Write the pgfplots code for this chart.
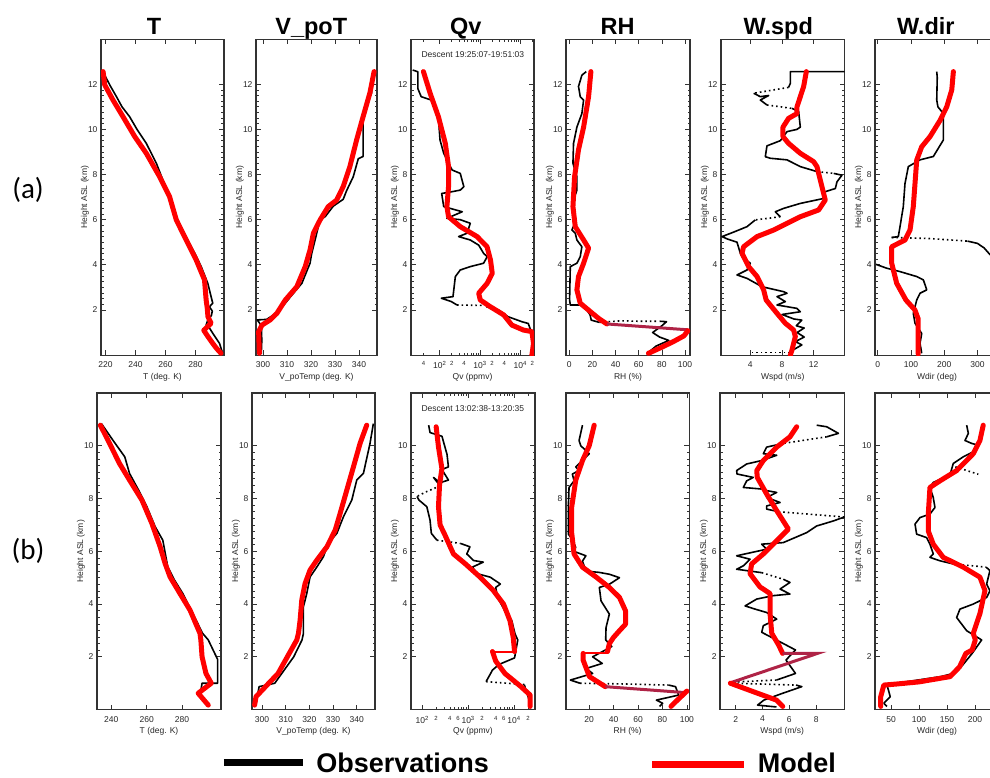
\documentclass[border=0pt]{standalone}
\usepackage{fontspec}
\setmainfont{Liberation Sans}
\newfontfamily\carlito{Carlito}
\usepackage{pgfplots}
\pgfplotsset{compat=1.18}

\pgfplotsset{
  prof/.style={
    scale only axis, anchor=south west, ymin=0,
    axis line style={black!80, line width=1.1pt},
    every tick/.style={black!80, line width=0.7pt},
    major tick length=5pt, minor tick length=2.5pt,
    minor y tick num=7,
    tick label style={font=\fontsize{8.5}{9}\selectfont, black!85},
    xticklabel style={yshift=-3pt},
    label style={font=\fontsize{8.5}{9}\selectfont, black!85},
    ylabel={Height ASL (km)},
    ylabel style={at={(axis description cs:0,0.5)}, yshift=16pt, anchor=center},
    xlabel style={at={(axis description cs:0.5,0)}, yshift=-22pt, anchor=center},
    /pgf/number format/assume math mode=true,
  },
  rowa/.style={prof, height=316pt, ymax=14, ytick={2,4,6,8,10,12}},
  rowb/.style={prof, height=316.6pt, ymax=12, ytick={2,4,6,8,10}},
  obs/.style={black, line width=1.6pt, line join=round},
  obsdot/.style={black, line width=1.6pt, dash pattern=on 1.6pt off 3pt},
  mod/.style={red, line width=5pt, line join=round, line cap=round},
  band/.style={color={rgb,255:red,175;green,35;blue,70}, line width=3pt},
  obsleg/.style={legend image code/.code={\draw[##1, line width=7pt, line cap=butt] (0pt,0pt) -- (79pt,0pt);}},
  modleg/.style={legend image code/.code={\draw[##1, line width=7pt, line cap=butt] (0pt,-1.5pt) -- (92pt,-1.5pt);}},
}

\begin{document}
\begin{tikzpicture}[x=1pt,y=1pt]
\useasboundingbox (0,0) rectangle (990,777);
\clip (0,0) rectangle (990,777);

% ---------------- row (a) ----------------
\begin{axis}[rowa, at={(101pt,421.9pt)}, width=123pt,
  xmin=217, xmax=299, xtick={220,240,260,280}, xlabel={T (deg. K)}]
\addplot[obs] coordinates {(298.1,0.08) (296.0,0.52) (291.5,0.97) (289.3,1.2) (287.1,1.33) (288.2,1.56) (290.6,1.75) (291.2,1.95) (289.3,2.14) (291.5,2.3) (290.4,2.59) (288.2,3.18) (283.8,3.92) (280,4.45) (276,4.95) (271,5.6) (267.2,6.13) (264.5,6.7) (261.6,7.24) (258,7.8) (253.9,8.5) (247.2,9.38) (241,10.0) (236.1,10.56) (231,11.0) (227.3,11.45) (223,11.95) (219.5,12.4) (218.6,12.6)};
\addplot[mod] coordinates {(297,0.08) (294,0.3) (291.5,0.52) (288.5,0.8) (285.5,1.1) (290.4,1.41) (288.3,1.7) (287.8,2.1) (287.1,2.44) (286,3.33) (280.5,4.21) (273.8,5.1) (267.2,5.99) (262.7,7.02) (256.1,7.9) (247.2,8.94) (239.5,9.68) (231.7,10.56) (225,11.3) (219.5,11.97) (218.4,12.56)};
\end{axis}

\begin{axis}[rowa, at={(256pt,421.9pt)}, width=121pt,
  xmin=297.1, xmax=347.5, xtick={300,310,320,330,340}, xlabel={V\_poTemp (deg. K)}]
\addplot[obs] coordinates {(299.3,0.05) (299.5,0.6) (299.4,1.3) (297.6,1.56) (301.5,1.58) (304.4,1.78) (307,2.0) (309.3,2.3) (312.7,2.74) (316.2,3.18) (319.6,4.07) (320.3,4.5) (322.4,5.4) (323.8,6.0) (325.9,6.13) (329.3,6.6) (333.4,6.9) (334.9,7.3) (337.6,7.9) (339.7,8.7) (341.7,8.8) (341.7,10.5) (342.4,10.9) (345.2,11.6) (345.9,12.6)};
\addplot[mod] coordinates {(298.5,0.08) (298.2,1.04) (299.6,1.33) (303,1.56) (305.8,1.85) (309.3,2.44) (314.1,3.03) (317.6,3.92) (319.6,4.66) (321,5.4) (323.8,5.99) (327.2,6.58) (330.7,6.87) (333.4,7.46) (336.2,8.35) (339,9.53) (341.7,10.56) (344.5,11.6) (346.3,12.56)};
\end{axis}

\begin{axis}[rowa, at={(411pt,421.9pt)}, width=123pt, xmode=log,
  xmin=19.4, xmax=22000, xtick={100,1000,10000},
  xticklabels={10\textsuperscript{2},10\textsuperscript{3},10\textsuperscript{4}},
  extra x ticks={40,200,400,2000,4000,20000}, extra x tick labels={4,2,4,2,4,2},
  extra x tick style={major tick length=2.5pt, tick label style={font=\fontsize{6}{6}\selectfont}},
  xlabel={Qv (ppmv)}]
\node[anchor=west, font=\fontsize{8.5}{9}\selectfont, black!85] at (axis description cs:0.057,0.95) {Descent 19:25:07-19:51:03};
\addplot[obs] coordinates {(21.4,12.63) (28.8,12.55) (28.8,11.8) (34.7,11.45) (61.7,11.3) (91.2,10.7) (102,9.53) (126,8.94) (166,8.5) (204,8.2) (324,8.05) (398,7.46) (324,7.31) (204,7.24) (112,7.16) (126,6.58) (363,6.35) (151,6.06) (324,6.0) (575,5.84) (479,5.4) (295,5.25) (575,5.1) (933,4.87) (1230,4.51) (1514,4.36) (1230,4.07) (575,3.92) (324,3.77) (245,3.48) (214,2.59) (110,2.52) (195,2.37) (269,2.22)};
\addplot[obsdot] coordinates {(269,2.22) (1300,2.2)};
\addplot[obs] coordinates {(1445,2.14) (2884,2.0) (5012,1.7) (10965,1.48) (15849,1.4) (19498,0.96) (21380,0.08)};
\addplot[mod] coordinates {(39.5,12.56) (57.9,11.6) (93,10.56) (138,9.38) (166,8.35) (166,7.46) (151,6.58) (166,6.13) (325,5.69) (850,5.25) (1500,4.8) (1830,4.21) (2020,3.62) (1510,3.18) (930,2.74) (1020,2.44) (1820,2.14) (2450,2.0) (3890,1.78) (6200,1.33) (12000,1.11) (19500,1.04) (21400,0.52) (19500,0.0)};
\end{axis}

\begin{axis}[rowa, at={(566pt,421.9pt)}, width=124pt,
  xmin=-2.8, xmax=104.3, xtick={0,20,40,60,80,100}, xlabel={RH (\%)}]
\addplot[obs] coordinates {(14.7,12.56) (10.9,12.4) (8,11.9) (9.5,11.45) (12.4,11.3) (10.9,10.7) (6.6,10.1) (3.7,9.38) (3.2,8.5) (6.6,7.9) (6.6,7.31) (3.7,6.87) (3.7,6.28) (5.2,5.9) (2.3,5.54) (5.2,5.4) (6.6,5.1) (10.9,4.8) (9.5,4.36) (6.6,4.07) (0.9,3.92) (0.3,2.44) (0.9,2.22) (9.5,2.22) (15.2,2.0) (18,1.78) (19,1.55) (26,1.45)};
\addplot[obsdot] coordinates {(26,1.45) (45,1.52) (60,1.5) (76,1.5)};
\addplot[obs] coordinates {(78,1.5) (84,1.48) (80,1.3) (72,1.0) (78,0.8) (86,0.65) (75,0.4) (68,0.1)};
\addplot[mod] coordinates {(18.7,12.56) (16.7,11.45) (12.4,10.1) (8.0,9.1) (4.6,7.9) (3.2,6.58) (5.2,5.69) (12.4,5.1) (16.7,4.74) (12.4,4.07) (8.0,3.48) (6.6,2.89) (9.5,2.3) (20,1.85) (26,1.6) (32.5,1.38)};
\addplot[band] coordinates {(32.5,1.38) (102.5,1.12)};
\addplot[mod] coordinates {(102.5,1.08) (99,0.85) (90,0.6) (80,0.35) (68.4,0.08)};
\end{axis}

\begin{axis}[rowa, at={(721pt,421.9pt)}, width=123.6pt,
  xmin=0.3, xmax=15.9, xtick={4,8,12}, xlabel={Wspd (m/s)}]
\addplot[obs] coordinates {(15.9,12.56) (9.05,12.56) (9.05,12.04) (8.83,11.86)};
\addplot[obsdot] coordinates {(8.83,11.86) (4.42,11.6)};
\addplot[obs] coordinates {(4.42,11.6) (5.26,11.45) (6.31,11.5) (5.26,11.3) (6.1,11.08)};
\addplot[obsdot] coordinates {(6.1,11.08) (9.26,10.93)};
\addplot[obs] coordinates {(9.26,10.93) (10.1,10.79) (10.31,10.1) (9.89,10.0) (8.63,9.9) (7.79,9.5) (6.1,9.27) (5.89,8.79) (6.52,8.72) (8.63,8.65) (10.31,8.35) (12.41,8.13)};
\addplot[obsdot] coordinates {(12.41,8.13) (14.52,8.05)};
\addplot[obs] coordinates {(14.52,8.05) (15.57,7.97) (14.94,7.68) (14.73,7.38) (13.46,7.24) (13.26,6.94) (10.31,6.72) (8.2,6.5) (7.16,6.35) (7.79,6.13)};
\addplot[obsdot] coordinates {(7.79,6.13) (4.63,5.99)};
\addplot[obs] coordinates {(4.63,5.99) (3.58,5.69) (1.9,5.45) (0.43,5.25) (1.06,5.15) (2.32,5.0) (2.74,4.51) (2.95,4.36) (4.0,4.07) (3.58,3.77) (2.32,3.55) (3.58,3.4) (5.47,3.03) (8.2,2.81) (8.63,2.74) (7.37,2.59) (8.42,2.37) (7.37,2.22) (9.89,2.07) (10.31,1.92) (8.0,1.8) (9.5,1.6) (10.5,1.55) (9.8,1.3) (10.8,1.2) (9.9,1.0) (10.8,0.8) (9.7,0.6) (10.5,0.45) (9.5,0.25) (9.0,0.1)};
\addplot[obsdot] coordinates {(9.0,0.11) (4.0,0.11)};
\addplot[mod] coordinates {(9.05,0.0) (9.26,0.23) (9.68,0.82) (9.47,1.11) (8.42,1.41) (7.37,1.85) (6.0,2.44) (5.68,2.89) (4.85,3.48) (3.79,3.92) (2.95,4.51) (3.15,4.8) (4.85,5.25) (6.94,5.54) (10.31,6.13) (12.62,6.43) (13.46,6.87) (12.41,8.35) (11.99,8.57) (10.31,8.94) (8.83,9.38) (8.12,9.68) (8.12,10.1) (8.83,10.49) (9.89,10.7) (9.89,11.0) (10.31,11.45) (10.73,11.9) (11.07,12.56)};
\end{axis}

\begin{axis}[rowa, at={(875pt,421.9pt)}, width=124pt,
  xmin=-8, xmax=365, xtick={0,100,200,300}, xlabel={Wdir (deg)}]
\addplot[obs] coordinates {(177.7,12.56) (179.2,12.3) (177.7,11.3) (181.2,11.0) (197.6,10.7) (197.6,9.53) (167.5,8.8) (127.4,8.65) (92.2,8.35) (82.2,7.6) (77.1,6.58) (67.2,5.69) (62.1,5.25) (42.2,5.21)};
\addplot[obsdot] coordinates {(42.2,5.21) (150,5.17) (270,5.05)};
\addplot[obs] coordinates {(270,5.05) (300,4.95) (320,4.75) (335,4.5) (345,4.35) (370,4.2)};
\addplot[obs] coordinates {(-5,4.02) (27,3.85) (67,3.7) (117.5,3.48) (137.5,3.33) (147.6,2.89) (127.4,2.74) (117.5,2.44) (107.2,1.85) (112.3,1.41) (132.5,0.96) (127.4,0.52) (132.5,0.08)};
\addplot[mod] coordinates {(122,0.05) (122,1.6) (112,2.0) (85,2.44) (57.2,3.18) (42.2,4.07) (42.2,4.8) (82.2,5.1) (97.3,5.54) (107.2,6.58) (112.3,7.6) (117.5,8.64) (132.5,9.23) (157.5,9.68) (187.7,10.4) (207.8,11.0) (222.9,11.75) (227.7,12.56)};
\end{axis}

% ---------------- row (b) ----------------
\begin{axis}[rowb, at={(97pt,67.4pt)}, width=124pt,
  xmin=231.9, xmax=302, xtick={240,260,280}, xlabel={T (deg. K)}]
\addplot[obs] coordinates {(293.2,0.25) (290.2,0.55) (291.3,1.0) (300.1,1.0) (300.1,1.9) (294.8,2.64) (291.6,2.89) (286,3.65) (280.4,4.4) (275.7,4.91) (271.9,5.41) (269.1,6.42) (264.8,6.93) (260.1,7.69) (255.4,8.32) (250.3,8.95) (247.6,9.58) (241,10.2) (234.4,10.84)};
\addplot[mod] coordinates {(294.8,0.17) (289.1,0.62) (296.5,1.0) (293.5,1.37) (291.3,2.0) (290.6,2.64) (290.1,2.89) (284.5,3.77) (278.8,4.4) (273.2,5.03) (270.4,5.54) (267.6,6.17) (262.9,7.06) (257.3,7.94) (250.3,8.7) (244.6,9.33) (239,10.09) (233.8,10.78)};
\end{axis}

\begin{axis}[rowb, at={(252pt,67.4pt)}, width=123pt,
  xmin=295.8, xmax=347.7, xtick={300,310,320,330,340}, xlabel={V\_poTemp (deg. K)}]
\addplot[obs] coordinates {(297.5,0.24) (298.8,0.87) (305.4,1.0) (309.4,1.5) (313.4,2.0) (316.9,2.64) (317.5,2.89) (317.5,3.9) (318.9,4.4) (320.3,5.03) (323.2,5.41) (325.9,5.79) (328,6.3) (331.6,6.68) (334.4,7.31) (337.9,7.94) (340,8.7) (342.8,8.95) (345.6,10.09) (347,10.84)};
\addplot[mod] coordinates {(296.9,0.17) (297.5,0.49) (301.5,0.87) (306.8,1.37) (310.7,2.0) (314.7,2.64) (315.4,2.89) (316.1,3.39) (316.8,4.15) (318.2,4.78) (320.3,5.29) (323.2,5.67) (327.4,6.17) (330.9,6.8) (333,7.44) (335.8,8.32) (338.6,9.2) (341.4,10.09) (344.2,10.78)};
\end{axis}

\begin{axis}[rowb, at={(411pt,67.4pt)}, width=124pt, xmode=log,
  xmin=57, xmax=28500, xtick={100,1000,10000},
  xticklabels={10\textsuperscript{2},10\textsuperscript{3},10\textsuperscript{4}},
  extra x ticks={200,400,600,2000,4000,6000,20000}, extra x tick labels={2,4,6,2,4,6,2},
  extra x tick style={major tick length=2.5pt, tick label style={font=\fontsize{6}{6}\selectfont}},
  xlabel={Qv (ppmv)},
  legend columns=2,
  legend style={at={(axis description cs:-1.540,-0.168)}, anchor=west, draw=none, fill=none,
    inner sep=0pt, font=\fontsize{27}{27}\selectfont\bfseries,
    nodes={inner sep=0pt, text depth=0pt},
    /tikz/every odd column/.append style={column sep=10pt},
    /tikz/every even column/.append style={column sep=160pt}}]
\node[anchor=west, font=\fontsize{8.5}{9}\selectfont, black!85] at (axis description cs:0.057,0.95) {Descent 13:02:38-13:20:35};
\addplot[obs, obsleg] coordinates {(138,10.78) (148,10.5) (269,10.36) (347,9.67) (372,9.2) (269,9.1) (372,8.7) (245,8.6) (176,8.8) (245,8.48)};
\addlegendentry{Observations}
\addplot[obsdot, forget plot] coordinates {(245,8.48) (120,8.25) (77,8.08)};
\addplot[obs, forget plot] coordinates {(77,8.08) (85,7.94) (126,7.69) (148,7.18) (158,6.68) (209,6.42)};
\addplot[obsdot, forget plot] coordinates {(209,6.42) (676,6.3)};
\addplot[obs, forget plot] coordinates {(676,6.3) (1096,6.17) (933,5.9) (1318,5.65) (2138,5.59) (1230,5.4) (1585,5.15) (3020,5.02) (5012,4.76) (3981,4.63) (4365,4.25) (6310,3.74) (8913,3.37) (10471,2.87) (12023,2.64) (10233,1.96) (4677,1.71) (3388,1.5) (2455,1.06)};
\addplot[obsdot, forget plot] coordinates {(2455,1.06) (16596,0.95)};
\addplot[obs, forget plot] coordinates {(16596,0.95) (22387,0.24)};
\addplot[mod, modleg] coordinates {(201,10.72) (226,9.95) (268,9.14) (238,8.5) (226,7.69) (245,7.0) (316,6.6) (407,6.17) (479,5.9) (861,5.53) (1820,5.02) (3548,4.51) (5888,4.0) (8128,3.37) (9550,2.75) (10233,2.2)};
\addlegendentry{Model}
\addplot[red, line width=2pt, forget plot] coordinates {(10233,2.2) (3388,2.2)};
\addplot[mod, forget plot] coordinates {(3388,2.2) (3981,1.84) (6310,1.37) (14125,0.87) (22387,0.55) (22387,0.12)};
\end{axis}

\begin{axis}[rowb, at={(566pt,67.4pt)}, width=123.3pt,
  xmin=1, xmax=102, xtick={20,40,60,80,100}, xlabel={RH (\%)}]
\addplot[obs] coordinates {(14.5,10.78) (11.7,10.2) (13.1,10.0) (20,9.7) (14.5,9.44) (9,9.2) (11.7,9.06) (6.2,8.93) (7.6,8.67) (3.5,8.42) (2.9,7.66) (2.9,6.65) (6.2,6.46) (9,6.14) (6.2,6.02) (17.3,5.83) (14.5,5.63) (17.3,5.25) (28.3,5.2) (36.5,5.13) (44.8,5.0) (36.5,4.75) (28.3,4.63) (29.7,4.12) (36.5,3.62) (33.8,3.11) (33.5,2.64) (38.5,2.39) (22.8,2.0) (30.7,1.75) (17.6,1.56) (22.8,1.37) (4.6,1.12) (12.4,1.0)};
\addplot[obsdot] coordinates {(12.4,1.0) (50,0.97) (85,0.93)};
\addplot[obs] coordinates {(85,0.93) (90.7,0.87) (93.3,0.55) (75,0.36) (80.2,0.24) (77.6,0.12)};
\addplot[mod] coordinates {(24.1,10.78) (20,10.0) (14.5,9.44) (9,8.7) (5.7,7.69) (5.7,6.68) (7.6,5.9) (14.5,5.4) (25.5,5.03) (36.5,4.63) (44.8,4.25) (49.8,3.74) (49.8,3.24) (44.8,2.99) (40,2.74) (36.5,2.5) (35,2.2)};
\addplot[red, line width=2pt] coordinates {(35,2.15) (15,2.15)};
\addplot[mod] coordinates {(15,2.13) (15,1.88) (20.2,1.25) (33.2,0.87)};
\addplot[band] coordinates {(33.2,0.87) (100,0.64)};
\addplot[mod] coordinates {(100,0.7) (92,0.35) (87,0.12)};
\end{axis}

\begin{axis}[rowb, at={(720pt,67.4pt)}, width=124.3pt,
  xmin=0.83, xmax=10.1, xtick={2,4,6,8}, xlabel={Wspd (m/s)}]
\addplot[obs] coordinates {(8.04,10.78) (8.79,10.72) (9.66,10.47) (8.79,10.34)};
\addplot[obsdot] coordinates {(8.79,10.34) (5.55,10.09)};
\addplot[obs] coordinates {(5.55,10.09) (4.31,9.95) (4.06,9.7) (5.06,9.64) (3.94,9.44) (2.82,9.31) (2.07,9.06) (2.1,8.93) (3.31,8.8) (2.82,8.67) (2.57,8.42) (3.94,8.36) (4.31,8.3) (5.06,8.23) (4.31,8.04) (5.31,7.85) (4.31,7.72) (4.31,7.6) (5.2,7.5)};
\addplot[obsdot] coordinates {(5.2,7.5) (10.1,7.3)};
\addplot[obs] coordinates {(10.1,7.3) (9.28,7.15) (8.04,6.96) (7.3,6.71) (5.55,6.33) (3.94,6.27) (4.31,6.08) (2.07,5.83) (3.07,5.7) (2.57,5.45) (2.07,5.32) (3.94,5.19)};
\addplot[obsdot] coordinates {(3.94,5.19) (5.55,4.94)};
\addplot[obs] coordinates {(5.55,4.94) (6.05,4.82) (5.31,4.57) (6.05,4.38) (4.81,4.32) (3.57,4.19) (2.7,3.93) (3.44,3.81) (4.31,3.68) (5.06,3.43) (4.06,3.18) (3.94,2.93) (5.04,2.64) (6.46,2.26) (5.75,1.88) (6.46,1.37) (5.04,1.12)};
\addplot[obsdot] coordinates {(5.04,1.12) (2.0,1.05)};
\addplot[obs] coordinates {(2.0,1.05) (1.75,1.0)};
\addplot[obsdot] coordinates {(1.75,1.0) (6.5,0.93)};
\addplot[obs] coordinates {(6.5,0.93) (6.93,0.87) (5.51,0.62) (4.1,0.36) (3.63,0.17) (5.04,0.1)};
\addplot[mod] coordinates {(6.55,10.72) (6.05,10.34) (5.06,9.95) (4.06,9.44) (3.57,9.06) (3.61,8.8) (4.31,8.17) (5.06,7.54) (5.93,6.84) (5.06,6.4) (4.06,5.9) (3.19,5.52) (3.07,5.15) (3.81,4.65) (4.56,4.4) (4.56,3.64) (4.69,2.89) (5.2,2.45) (5.5,2.13)};
\addplot[band] coordinates {(5.5,2.13) (8.1,2.13) (1.5,1.0)};
\addplot[mod] coordinates {(1.6,1.0) (3.63,0.62) (5.04,0.36) (5.51,0.12)};
\end{axis}

\begin{axis}[rowb, at={(875pt,67.4pt)}, width=124pt,
  xmin=21.4, xmax=243, xtick={50,100,150,200}, xlabel={Wdir (deg)}]
\addplot[obs] coordinates {(185.2,10.78) (188.2,10.47) (182.2,10.2) (194.1,10.09) (206,10.02) (197,9.77) (179.1,9.58) (161.3,9.33) (155.4,8.9) (125.5,8.61) (119.6,8.42) (125.5,8.04) (128.5,7.66) (119.6,7.41) (101.8,7.28) (92.9,7.03) (95.8,6.65) (113.6,6.52) (119.6,6.27) (125.5,5.9) (119.6,5.77) (137.5,5.64) (161.3,5.52)};
\addplot[obsdot] coordinates {(165,9.2) (206,8.92)};
\addplot[obsdot] coordinates {(161.3,5.52) (220,5.4)};
\addplot[obs] coordinates {(220,5.4) (226.8,5.27) (220.9,4.76) (226.8,4.5) (220.9,4.25) (197,4.0) (173.2,3.81) (167.3,3.49) (185.2,2.99) (212,2.64) (195,2.13) (178.2,1.69) (161.3,1.37) (138.8,1.25) (59.8,1.0) (42.9,0.93) (48.6,0.49) (37.2,0.24) (42.9,0.12)};
\addplot[mod] coordinates {(214.8,10.78) (208.9,10.2) (197,9.7) (167.3,9.06) (137.5,8.67) (119.6,8.42) (116.6,7.41) (116.6,6.77) (125.5,6.27) (143.4,5.77) (179.1,5.4) (208.9,5.02) (217.9,4.51) (208.9,3.64) (197,2.89) (200.7,2.64) (195,2.26) (183.8,2.13) (172.5,1.62) (155.6,1.25) (100,1.05) (60,0.97) (37.2,0.93) (31.6,0.49) (31.6,0.12)};
\end{axis}

% column titles and row tags
\begin{scope}[font=\fontsize{23.5}{24}\selectfont\bfseries]
\node[anchor=base] at (154,742) {T};
\node[anchor=base] at (311.3,742) {V\_poT};
\node[anchor=base] at (465.8,742) {Qv};
\node[anchor=base] at (617.5,742) {RH};
\node[anchor=base] at (778.3,742) {W.spd};
\node[anchor=base] at (925.8,742) {W.dir};
\end{scope}
\node[font=\carlito\fontsize{29}{30}\selectfont] at (28,587) {(a)};
\node[font=\carlito\fontsize{29}{30}\selectfont] at (28,226) {(b)};
\end{tikzpicture}
\end{document}
